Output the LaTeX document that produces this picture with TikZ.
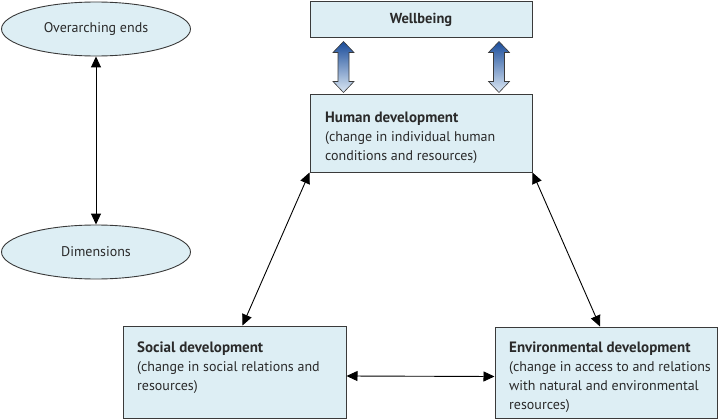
\documentclass[tikz,border=0pt]{standalone}
\usepackage{fontspec}
\setmainfont{PT Sans}
\usetikzlibrary{shapes.geometric,arrows.meta,calc}
\definecolor{boxfill}{HTML}{DDEEF4}
\definecolor{boxline}{HTML}{3A3A3A}
\definecolor{txt}{HTML}{2A2A2A}
\definecolor{adark}{HTML}{1A4C9A}
\definecolor{alight}{HTML}{DCE8F4}
\newcommand{\boxtitle}[1]{{\fontsize{15}{19}\selectfont\bfseries #1}}
\begin{document}
\begin{tikzpicture}[x=1pt,y=-1pt,
  every node/.style={text=txt,font=\fontsize{14}{20.8}\selectfont},
  bodytext/.style={anchor=north west,align=left,inner sep=0pt,font=\fontsize{14}{19}\selectfont},
  devbox/.style={draw=boxline,line width=1pt,fill=boxfill,rectangle,inner sep=0pt},
  endsell/.style={draw=boxline,line width=0.9pt,fill=boxfill,ellipse,inner sep=0pt,minimum width=189,minimum height=54},
  link/.style={line width=0.9pt,black,{Triangle[length=11pt,width=10pt]}-{Triangle[length=11pt,width=10pt]}},
  blockarrow/.style={draw=boxline,line width=0.6pt,top color=adark,bottom color=alight}
]
\useasboundingbox (0,0) rectangle (718,420);
\node[endsell] (oe) at (96,29) {Overarching ends};
\node[endsell] (dim) at (96,252) {Dimensions};
\draw[link] (oe.south) -- (dim.north);

\node[devbox,minimum width=222,minimum height=36] (wb) at (421,20) {\fontsize{14.5}{17}\selectfont\bfseries Wellbeing};
\node[devbox,minimum width=222,minimum height=77] (hum) at (421,133.5) {};
\node[bodytext] (humt) at (325,112) {\boxtitle{Human development}\\(change in individual human\\conditions and resources)};

\node[devbox,minimum width=223,minimum height=92] (soc) at (234.5,372) {};
\node[bodytext] (soct) at (137,342) {\boxtitle{Social development}\\(change in social relations and\\resources)};

\node[devbox,minimum width=222,minimum height=91] (env) at (606,372.5) {};
\node[bodytext] (envt) at (509,342) {\boxtitle{Environmental development}\\(change in access to and relations\\with natural and environmental\\resources)};

% block arrows between Wellbeing and Human development
\foreach \cx/\nm in {343.5/ba1,499/ba2}{
  \coordinate (\nm) at (\cx,67);
  \shade[blockarrow] ($(\nm)+(0,-25.5)$) -- ++(10.5,11) -- ++(-5,0) -- ++(0,29) -- ++(5,0)
    -- ++(-10.5,11) -- ++(-10.5,-11) -- ++(5,0) -- ++(0,-29) -- ++(-5,0) -- cycle;
}

\draw[link] (hum.south west) -- ([xshift=8pt]soc.north);
\draw[link] (hum.south east) -- ([xshift=-6pt]env.north);
\draw[link] ([yshift=-4pt]soc.east) -- ([yshift=-4pt]env.west);
\end{tikzpicture}
\end{document}
